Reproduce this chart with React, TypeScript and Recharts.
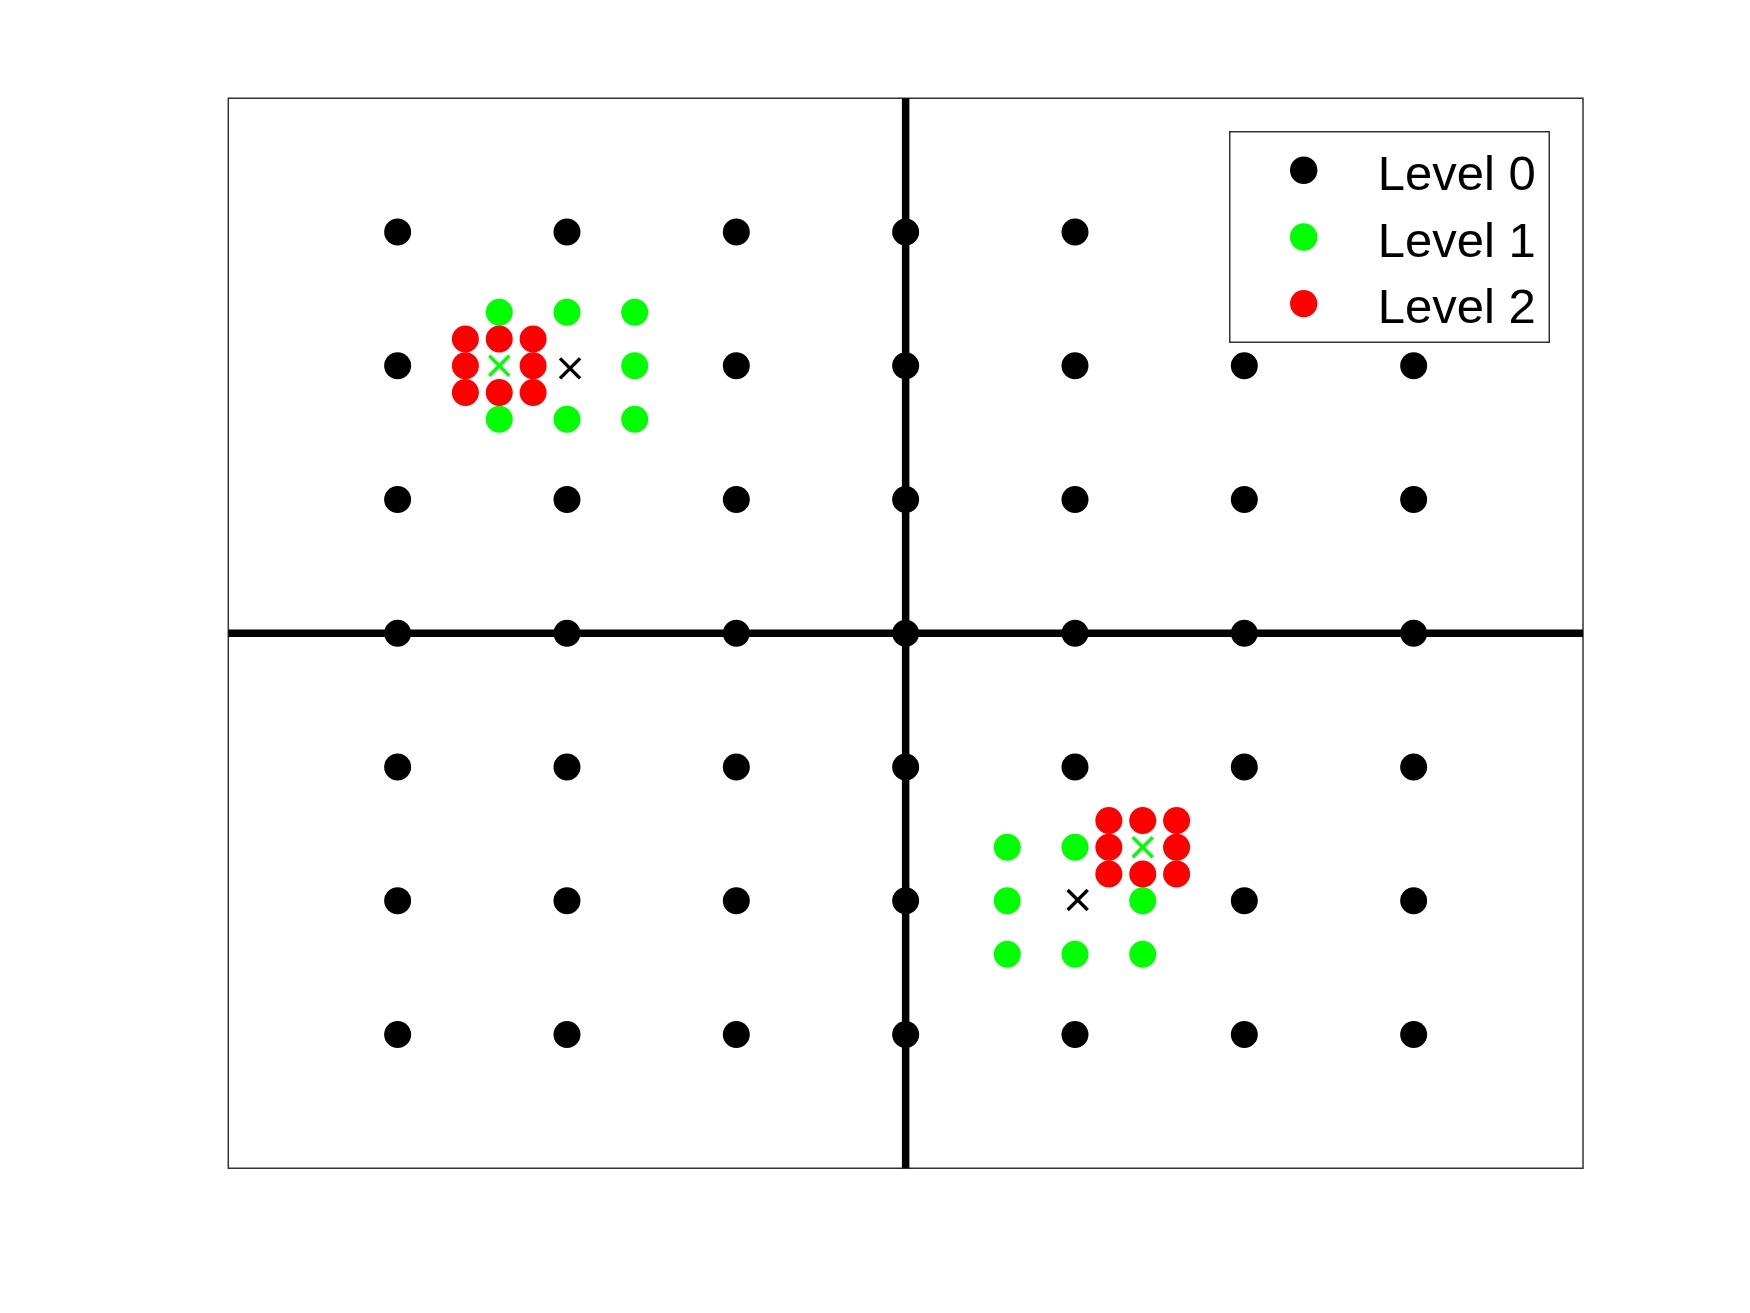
import React from "react";
import {
  ScatterChart,
  Scatter,
  XAxis,
  YAxis,
  ReferenceLine,
  ReferenceArea,
  Legend,
} from "recharts";

// Level 0: coarse grid points
const level0Points = [
  { x: -3, y: 3 }, { x: -2, y: 3 }, { x: -1, y: 3 }, { x: 0, y: 3 }, { x: 1, y: 3 }, { x: 2, y: 3 }, { x: 3, y: 3 },
  { x: -3, y: 2 }, { x: -1, y: 2 }, { x: 0, y: 2 }, { x: 1, y: 2 }, { x: 2, y: 2 }, { x: 3, y: 2 },
  { x: -3, y: 1 }, { x: -2, y: 1 }, { x: -1, y: 1 }, { x: 0, y: 1 }, { x: 1, y: 1 }, { x: 2, y: 1 }, { x: 3, y: 1 },
  { x: -3, y: 0 }, { x: -2, y: 0 }, { x: -1, y: 0 }, { x: 0, y: 0 }, { x: 1, y: 0 }, { x: 2, y: 0 }, { x: 3, y: 0 },
  { x: -3, y: -1 }, { x: -2, y: -1 }, { x: -1, y: -1 }, { x: 0, y: -1 }, { x: 1, y: -1 }, { x: 2, y: -1 }, { x: 3, y: -1 },
  { x: -3, y: -2 }, { x: -2, y: -2 }, { x: -1, y: -2 }, { x: 0, y: -2 }, { x: 2, y: -2 }, { x: 3, y: -2 },
  { x: -3, y: -3 }, { x: -2, y: -3 }, { x: -1, y: -3 }, { x: 0, y: -3 }, { x: 1, y: -3 }, { x: 2, y: -3 }, { x: 3, y: -3 },
];

// Level 1: finer points around the selected level-0 centers
const level1Points = [
  { x: -2.4, y: 2.4 }, { x: -2, y: 2.4 }, { x: -1.6, y: 2.4 },
  { x: -1.6, y: 2 },
  { x: -2.4, y: 1.6 }, { x: -2, y: 1.6 }, { x: -1.6, y: 1.6 },
  { x: 0.6, y: -1.6 }, { x: 1, y: -1.6 },
  { x: 0.6, y: -2 }, { x: 1.4, y: -2 },
  { x: 0.6, y: -2.4 }, { x: 1, y: -2.4 }, { x: 1.4, y: -2.4 },
];

// Level 2: finest points around the selected level-1 centers
const level2Points = [
  { x: -2.6, y: 2.2 }, { x: -2.4, y: 2.2 }, { x: -2.2, y: 2.2 },
  { x: -2.6, y: 2 }, { x: -2.2, y: 2 },
  { x: -2.6, y: 1.8 }, { x: -2.4, y: 1.8 }, { x: -2.2, y: 1.8 },
  { x: 1.2, y: -1.4 }, { x: 1.4, y: -1.4 }, { x: 1.6, y: -1.4 },
  { x: 1.2, y: -1.6 }, { x: 1.6, y: -1.6 },
  { x: 1.2, y: -1.8 }, { x: 1.4, y: -1.8 }, { x: 1.6, y: -1.8 },
];

// Centers (X markers)
const level0Centers = [{ x: -1.982, y: 1.981 }, { x: 1.016, y: -1.994 }];
const level1Centers = [{ x: -2.4, y: 2 }, { x: 1.4, y: -1.6 }];

const legendItems = [
  { label: "Level 0", color: "#000000" },
  { label: "Level 1", color: "#00ff00" },
  { label: "Level 2", color: "#ff0000" },
];

const DOT_R = 13.5;

const makeDot = (color: string) => (props: any) => {
  const { cx, cy } = props;
  if (cx == null || cy == null) return <g />;
  return <circle cx={cx} cy={cy} r={DOT_R} fill={color} />;
};

const makeCross = (color: string) => (props: any) => {
  const { cx, cy } = props;
  if (cx == null || cy == null) return <g />;
  const s = 10;
  return (
    <g stroke={color} strokeWidth={3.4} strokeLinecap="butt">
      <line x1={cx - s} y1={cy - s} x2={cx + s} y2={cy + s} />
      <line x1={cx - s} y1={cy + s} x2={cx + s} y2={cy - s} />
    </g>
  );
};

const LegendBox = () => {
  const w = 321;
  const h = 212;
  const rows = [39.3, 106, 172.6];
  return (
    <svg width={w} height={h} style={{ display: "block", background: "#fff" }}>
      <rect x={0.75} y={0.75} width={w - 1.5} height={h - 1.5} fill="#fff" stroke="#333" strokeWidth={1.5} />
      {legendItems.map((it, i) => (
        <g key={it.label}>
          <circle cx={74.7} cy={rows[i]} r={13.7} fill={it.color} />
          <text
            x={148.7}
            y={rows[i] + 19.5}
            fontSize={49}
            fontFamily="'Liberation Sans', Arial, sans-serif"
            fill="#000"
          >
            {it.label}
          </text>
        </g>
      ))}
    </svg>
  );
};

export default function App() {
  const W = 1742;
  const H = 1297;
  return (
    <div style={{ width: W, height: H, background: "#fff" }}>
      <ScatterChart
        width={W}
        height={H}
        margin={{ top: 90.3, left: 220.3, right: 167, bottom: 136.7 }}
      >
        <XAxis type="number" dataKey="x" domain={[-4, 4]} hide allowDataOverflow />
        <YAxis type="number" dataKey="y" domain={[-4, 4]} hide allowDataOverflow />
        <ReferenceArea
          x1={-4}
          x2={4}
          y1={-4}
          y2={4}
          fill="none"
          fillOpacity={0}
          stroke="#333333"
          strokeWidth={1.5}
        />
        <ReferenceLine x={0} stroke="#000" strokeWidth={7.5} />
        <ReferenceLine y={0} stroke="#000" strokeWidth={7.5} />
        <Scatter
          name="Level 0"
          data={level0Points}
          fill="#000000"
          shape={makeDot("#000000")}
          isAnimationActive={false}
        />
        <Scatter
          name="Level 1"
          data={level1Points}
          fill="#00ff00"
          shape={makeDot("#00ff00")}
          isAnimationActive={false}
        />
        <Scatter
          name="Level 2"
          data={level2Points}
          fill="#ff0000"
          shape={makeDot("#ff0000")}
          isAnimationActive={false}
        />
        <Scatter
          name="Center 0"
          data={level0Centers}
          fill="#000000"
          legendType="none"
          shape={makeCross("#000000")}
          isAnimationActive={false}
        />
        <Scatter
          name="Center 1"
          data={level1Centers}
          fill="#00ff00"
          legendType="none"
          shape={makeCross("#00ff00")}
          isAnimationActive={false}
        />
        <Legend
          layout="horizontal"
          verticalAlign="middle"
          align="center"
          content={() => <LegendBox />}
          wrapperStyle={{ position: "absolute", left: 1221.3, top: 122.7, width: 321, height: 212, margin: 0, padding: 0 }}
        />
      </ScatterChart>
    </div>
  );
}
